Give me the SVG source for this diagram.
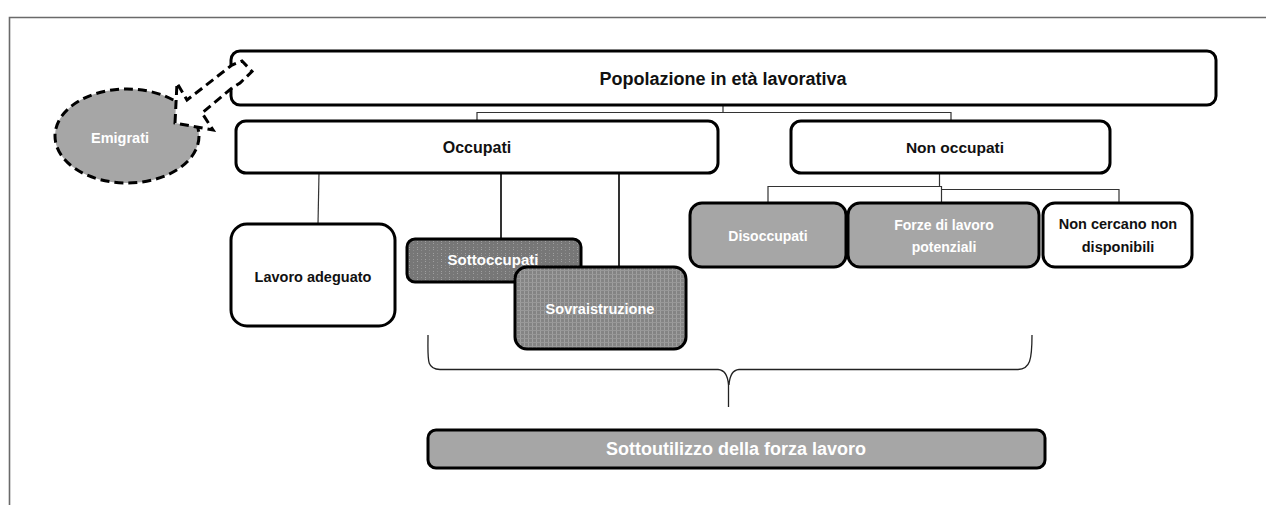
<svg xmlns="http://www.w3.org/2000/svg" width="1266" height="505" viewBox="0 0 1266 505">
<style>
.t{font-family:"Liberation Sans",Arial,sans-serif;font-weight:bold;text-anchor:middle}
.w{fill:#ffffff}
.k{fill:#111111}
.box{stroke:#000;stroke-width:3}
.conn{fill:none;stroke:#333;stroke-width:1.2}
.dash{stroke:#000;stroke-width:3;stroke-dasharray:9 5}
</style>
<defs>
<pattern id="pDots" width="8" height="6" patternUnits="userSpaceOnUse">
<rect width="8" height="6" fill="#777777"/>
<rect x="1" y="1" width="1" height="1" fill="#a0a0a0"/>
<rect x="1" y="3" width="1" height="1" fill="#a0a0a0"/>
<rect x="5" y="1" width="1" height="1" fill="#8e8e8e"/>
<rect x="5" y="4" width="1" height="1" fill="#8e8e8e"/>
</pattern>
<pattern id="pGrid" width="4" height="4" patternUnits="userSpaceOnUse">
<rect width="4" height="4" fill="#848484"/>
<rect x="0" y="0" width="1" height="4" fill="#a0a0a0"/>
<rect x="0" y="2" width="4" height="1" fill="#989898"/>
</pattern>
</defs>
<rect width="1266" height="505" fill="#ffffff"/>
<g id="frame" fill="none" stroke="#6a6a6a" stroke-width="1.6">
<path d="M9.5 505 V17.5 H1266"/>
</g>
<g id="connectors">
<path class="conn" d="M723 105 V112.5 M477 121 V112.5 H951 V121"/>
<path class="conn" d="M939.5 173 V186.5 M768 203 V186.5 H941.5 V203 M941.5 189.5 H1119 V203"/>
<path class="conn" d="M319 173 L318 224"/>
<path fill="none" stroke="#000" stroke-width="1.6" d="M501 173 V240 M619 173 V267"/>
<path id="brace" fill="none" stroke="#222" stroke-width="1.3" d="M428 335 C428 360 426 369 440 369.5 H718 C726 370 728 378 728.5 385 V407 M729 385 C729.5 378 731 370 739 369.5 H1018 C1030 369 1032 360 1032 335"/>
</g>
<g id="popolazione">
<rect class="box" x="231" y="51" width="985" height="54" rx="9" fill="#fff"/>
<text class="t k" x="723" y="85" font-size="18">Popolazione in età lavorativa</text>
</g>
<g id="emigrati">
<ellipse class="dash" cx="127" cy="136" rx="72" ry="47" fill="#a6a6a6"/>
<text class="t w" x="120" y="143" font-size="14.5">Emigrati</text>
</g>
<g id="arrow">
<polygon class="dash" fill="#fff" stroke-linejoin="miter" points="175,123 177,83 187,100 232,65 242,61 252,71.5 240,83 232,88 202,113 213,130"/>
</g>
<g id="occupati">
<rect class="box" x="236" y="121" width="482" height="52" rx="10" fill="#fff"/>
<text class="t k" x="477" y="153" font-size="16">Occupati</text>
</g>
<g id="non-occupati">
<rect class="box" x="791" y="121" width="319" height="52" rx="10" fill="#fff"/>
<text class="t k" x="955" y="153" font-size="15.5">Non occupati</text>
</g>
<g id="lavoro-adeguato">
<rect class="box" x="231" y="224" width="164" height="102" rx="16" fill="#fff"/>
<text class="t k" x="313" y="282" font-size="14.5">Lavoro adeguato</text>
</g>
<g id="sottoccupati">
<rect class="box" x="407" y="239" width="174" height="43" rx="8" fill="url(#pDots)"/>
<text class="t w" x="493" y="265" font-size="15">Sottoccupati</text>
</g>
<g id="sovraistruzione">
<rect class="box" x="515" y="267" width="171" height="82" rx="12" fill="url(#pGrid)"/>
<text class="t w" x="600" y="314" font-size="14.5">Sovraistruzione</text>
</g>
<g id="disoccupati">
<rect class="box" x="690" y="203" width="156" height="64" rx="12" fill="#a6a6a6"/>
<text class="t w" x="768" y="241" font-size="14">Disoccupati</text>
</g>
<g id="forze">
<rect class="box" x="848" y="203" width="191" height="64" rx="12" fill="#a6a6a6"/>
<text class="t w" x="944" y="230" font-size="14">Forze di lavoro</text>
<text class="t w" x="944" y="252" font-size="14">potenziali</text>
</g>
<g id="non-cercano">
<rect class="box" x="1043" y="203" width="149" height="64" rx="12" fill="#fff"/>
<text class="t k" x="1118" y="229" font-size="14.5">Non cercano non</text>
<text class="t k" x="1118" y="252" font-size="14.5">disponibili</text>
</g>
<g id="sottoutilizzo">
<rect class="box" x="428" y="430" width="617" height="38" rx="8" fill="#a6a6a6"/>
<text class="t w" x="736" y="455" font-size="18">Sottoutilizzo della forza lavoro</text>
</g>
</svg>
